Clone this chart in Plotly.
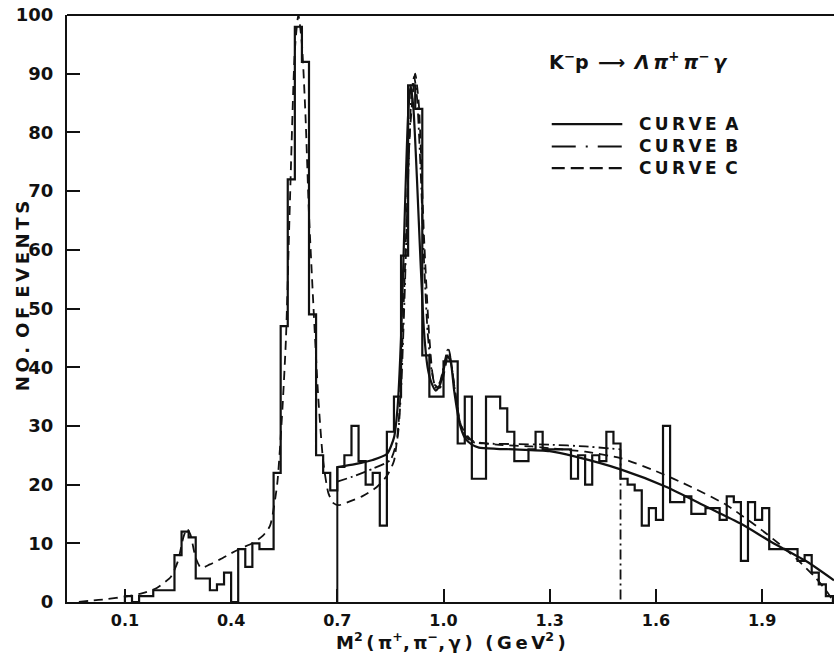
import numpy as np
import plotly.graph_objects as go

# ---------------- data ----------------
hist_start = 0.10
hist_width = 0.02
hist_counts = [
    1, 0, 1, 1, 2, 2, 2, 8, 12, 11,          # 0.10 - 0.28
    4, 4, 2, 3, 5, 0, 9, 6, 10, 9, 9,        # 0.30 - 0.50
    22, 47, 72, 98, 92, 49, 25, 22, 19,      # 0.52 - 0.68
    23, 25, 30, 24, 20, 22, 13, 29, 35, 59,  # 0.70 - 0.88
    88, 84, 42, 35, 35,                      # 0.90 - 0.98
    41, 41, 27, 35, 21, 21, 35, 35, 33, 29,  # 1.00 - 1.18
    24, 24, 26, 29, 26, 26, 26, 26, 21, 25,  # 1.20 - 1.38
    20, 25, 24, 29, 27,                      # 1.40 - 1.48
    21, 20, 19, 13, 16, 14, 30, 17, 17, 18,  # 1.50 - 1.68
    15, 15, 16, 16, 14, 18, 17, 7, 17, 14,   # 1.70 - 1.88
    16, 9, 9, 9, 9, 7, 8, 5, 3, 1,           # 1.90 - 2.08
]

# fit-range markers: curve A starts at 0.70, curve B ends at 1.50
fitA_start = 0.70
fitB_end = 1.50

curveA_x = [0.70, 0.75, 0.80, 0.84, 0.86, 0.87, 0.88, 0.89, 0.90, 0.907, 0.915,
            0.925, 0.935, 0.945, 0.955, 0.965, 0.978, 0.99, 1.00, 1.01, 1.02, 1.03,
            1.045, 1.06, 1.08, 1.10, 1.15, 1.20, 1.30, 1.37, 1.50, 1.63, 1.744,
            1.838, 1.932, 2.026, 2.103]
curveA_y = [23.0, 23.5, 24.2, 25.2, 28, 33, 45, 65, 83, 88, 84,
            72, 58, 46, 40, 37.5, 36, 37, 39.5, 42, 41, 36,
            30.5, 28, 26.8, 26.3, 26.1, 26.0, 25.7, 24.8, 22.6, 19.6, 16.2,
            13.4, 10.0, 6.9, 3.7]

curveB_x = [0.70, 0.75, 0.80, 0.85, 0.87, 0.88, 0.89, 0.90, 0.91, 0.917, 0.925,
            0.935, 0.945, 0.955, 0.965, 0.978, 0.99, 1.00, 1.012, 1.02, 1.03,
            1.045, 1.06, 1.08, 1.12, 1.20, 1.30, 1.40, 1.50]
curveB_y = [20.5, 21.5, 22.7, 24.2, 28, 36, 52, 72, 87, 89.5, 86,
            74, 58, 46, 40, 36.5, 37.5, 40, 43, 41.5, 37,
            31, 28.5, 27.3, 27.0, 26.9, 26.8, 26.5, 26.0]

curveC_x = [-0.03, 0.0, 0.05, 0.10, 0.15, 0.19, 0.23, 0.25, 0.265, 0.275, 0.285,
            0.30, 0.315, 0.34, 0.37, 0.40, 0.43, 0.46, 0.49, 0.51, 0.53, 0.545,
            0.555, 0.566, 0.58, 0.59, 0.60, 0.61, 0.62, 0.632, 0.646, 0.66, 0.675,
            0.69, 0.705, 0.73, 0.77, 0.81, 0.84, 0.86, 0.875, 0.89, 0.905, 0.92,
            0.93, 0.945, 0.96, 0.975, 0.99, 1.005, 1.015, 1.03, 1.05, 1.08, 1.15,
            1.25, 1.30, 1.40, 1.50, 1.60, 1.70, 1.80, 1.90, 1.95, 2.00, 2.05, 2.08, 2.097]
curveC_y = [0, 0.2, 0.5, 0.9, 1.5, 2.4, 4.3, 7, 11, 12.5, 11.5,
            7.5, 5.8, 6.4, 7.3, 8.3, 9.2, 10, 11.3, 13, 20, 33,
            45, 68, 94, 100, 95, 83, 66, 51, 35, 24, 18.5,
            16.8, 16.5, 17, 18, 19.5, 21.5, 24, 32, 55, 80, 90,
            85, 62, 45, 37, 36.5, 40, 43, 37, 30, 27.5, 26.8,
            26.5, 26.2, 25.6, 24.5, 22.3, 19.6, 16.5, 12.2, 9.8, 7.2, 4.2, 2, 0.5]

x_tick_vals = [0.1, 0.4, 0.7, 1.0, 1.3, 1.6, 1.9]
x_tick_text = ["0.1", "0.4", "0.7", "1.0", "1.3", "1.6", "1.9"]
y_tick_vals = [0, 10, 20, 30, 40, 50, 60, 70, 80, 90, 100]
y_tick_text = ["0", "10", "20", "30", "40", "50", "60", "70", "80", "90", "100"]

T = "\u2009"   # thin space for letter spacing
legend_labels = [T.join("CURVE") + "\u2002A", T.join("CURVE") + "\u2002B", T.join("CURVE") + "\u2002C"]
reaction_text = "K<sup>−</sup>p\u2002⟶\u2002<i>Λ\u2009π<sup>+</sup>\u2009π<sup>−</sup>\u2009γ</i>"
x_title = ("M<sup>2</sup>\u2009(\u2009π<sup>+</sup>,\u2009π<sup>−</sup>,\u2009γ\u2009)"
           "\u2002\u2009(\u2009G\u2009e\u2009V<sup>2</sup>\u2009)")
y_title = T.join("NO.") + "\u2002" + T.join("OF") + "\u2002" + T.join("EVENTS")

# ---------------- build figure ----------------
n = len(hist_counts)
edges = np.round(hist_start + hist_width * np.arange(n + 1), 3)
hx = [edges[0]] + list(edges)
hy = [0] + list(hist_counts) + [0]

INK = "#111111"
FONT = "DejaVu Sans"
dashB = "10px,4px,2px,4px"
dashC = "9px,6px"

fig = go.Figure()
fig.add_trace(go.Scatter(x=hx, y=hy, mode="lines", line=dict(color=INK, width=2.2, shape="hv"),
                         hoverinfo="skip", showlegend=False))
fig.add_trace(go.Scatter(x=curveA_x, y=curveA_y, mode="lines",
                         line=dict(color=INK, width=2.2, shape="spline", smoothing=0.6),
                         showlegend=False))
fig.add_trace(go.Scatter(x=[fitA_start, fitA_start], y=[0, curveA_y[0]], mode="lines",
                         line=dict(color=INK, width=2), showlegend=False))
fig.add_trace(go.Scatter(x=curveB_x, y=curveB_y, mode="lines",
                         line=dict(color=INK, width=1.8, dash=dashB, shape="spline", smoothing=0.6),
                         showlegend=False))
fig.add_trace(go.Scatter(x=[fitB_end, fitB_end], y=[curveB_y[-1], 0], mode="lines",
                         line=dict(color=INK, width=1.8, dash=dashB), showlegend=False))
fig.add_trace(go.Scatter(x=curveC_x, y=curveC_y, mode="lines",
                         line=dict(color=INK, width=1.8, dash=dashC, shape="spline", smoothing=0.6),
                         showlegend=False))

# top frame line
fig.add_shape(type="line", xref="paper", yref="paper", x0=0, x1=1, y0=1, y1=1,
              line=dict(color=INK, width=2))

# legend drawn as text block in upper right
leg_x0, leg_x1 = 0.632, 0.724
leg_ys = [0.814, 0.776, 0.739]
leg_dash = ["solid", "24px,10px,2px,10px", "13px,6px"]
for yy, dd, lab in zip(leg_ys, leg_dash, legend_labels):
    fig.add_shape(type="line", xref="paper", yref="paper", x0=leg_x0, x1=leg_x1, y0=yy, y1=yy,
                  line=dict(color=INK, width=2.2, dash=dd))
    fig.add_annotation(xref="paper", yref="paper", x=0.743, y=yy, text="<b>" + lab + "</b>",
                       showarrow=False, xanchor="left", yanchor="middle",
                       font=dict(family=FONT, size=17, color=INK))

fig.add_annotation(xref="paper", yref="paper", x=0.626, y=0.922, text="<b>" + reaction_text + "</b>",
                   showarrow=False, xanchor="left", yanchor="middle",
                   font=dict(family=FONT, size=19, color=INK))
fig.add_annotation(xref="paper", yref="paper", x=0.50, y=-0.066, text="<b>" + x_title + "</b>",
                   showarrow=False, xanchor="center", yanchor="middle",
                   font=dict(family=FONT, size=18, color=INK))
fig.add_annotation(xref="paper", yref="paper", x=-0.058, y=0.52, text="<b>" + y_title + "</b>",
                   showarrow=False, textangle=-90, xanchor="center", yanchor="middle",
                   font=dict(family=FONT, size=18, color=INK))

fig.update_layout(
    width=834, height=657,
    margin=dict(l=67, r=0, t=15, b=55, autoexpand=False),
    paper_bgcolor="white", plot_bgcolor="white",
    showlegend=False,
    font=dict(family=FONT, size=16, color=INK),
)
fig.update_xaxes(range=[-0.0636, 2.103], showgrid=False, zeroline=False, automargin=False,
                 showline=True, linecolor=INK, linewidth=2, mirror=False,
                 ticks="inside", ticklen=13, tickwidth=2, tickcolor=INK,
                 tickvals=x_tick_vals, ticktext=["<b>" + t + "</b>" for t in x_tick_text],
                 ticklabelstandoff=3, ticklabeloverflow="allow",
                 tickfont=dict(family=FONT, size=16, color=INK))
fig.update_yaxes(range=[0, 100], showgrid=False, zeroline=False, automargin=False,
                 showline=True, linecolor=INK, linewidth=2, mirror=False,
                 ticks="inside", ticklen=13, tickwidth=2, tickcolor=INK,
                 tickvals=y_tick_vals, ticktext=["<b>" + t + "</b>" for t in y_tick_text],
                 ticklabelstandoff=8, ticklabeloverflow="allow",
                 tickfont=dict(family=FONT, size=18, color=INK))

# remove the page's default body margin so the figure sits at the window's top-left corner
fig.write_html("out.html", config={"displayModeBar": False},
               post_script="document.body.style.margin='0';document.body.style.overflow='hidden';")
